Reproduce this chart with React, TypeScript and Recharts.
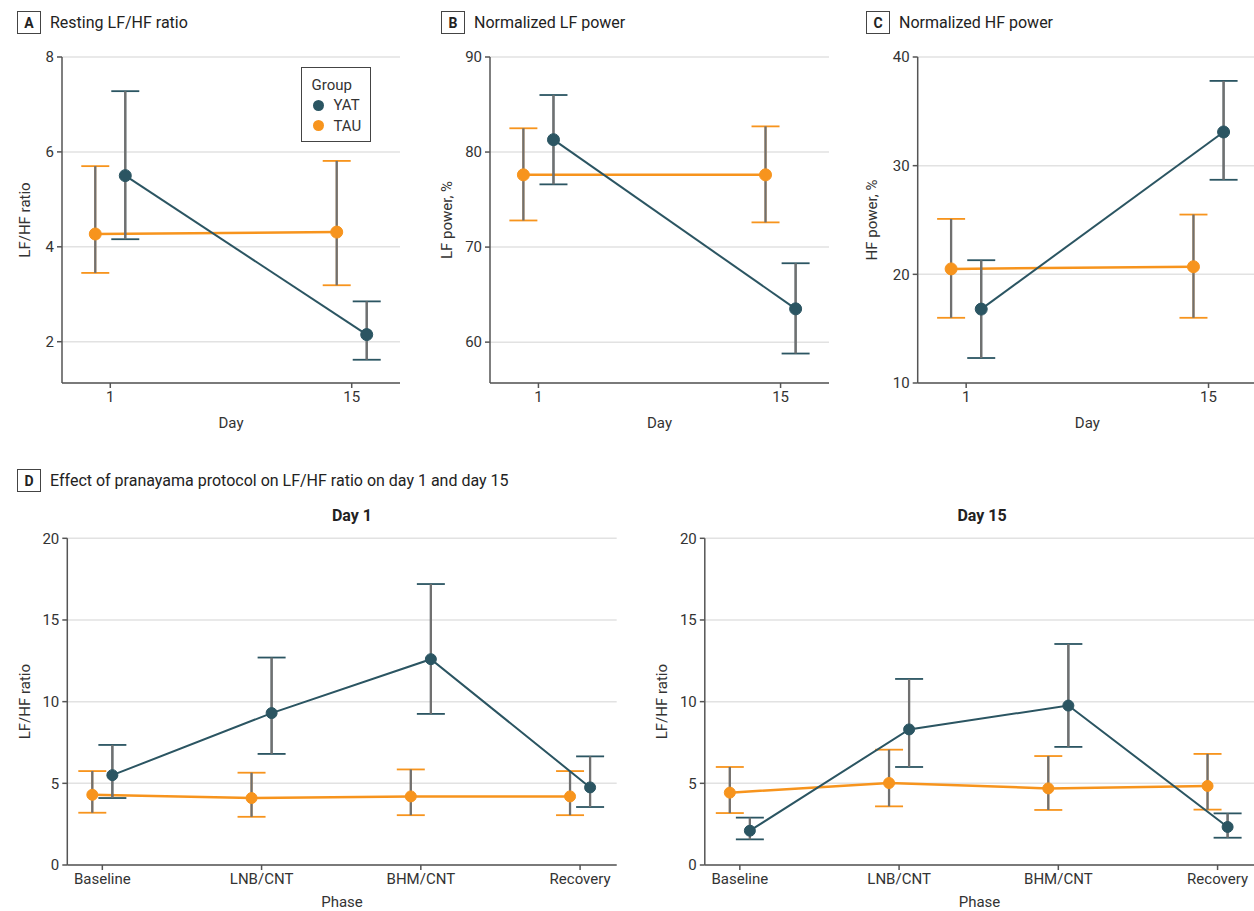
import React from 'react';
import { ComposedChart, Line, XAxis, YAxis, CartesianGrid, ErrorBar, Legend } from 'recharts';

const YAT_COLOR = '#2b5562';
const TAU_COLOR = '#f7941d';
const WHISKER = '#707070';
const AXIS = '#555555';
const TEXT = '#333333';
const FONT = 'Roboto, "Liberation Sans", sans-serif';

// panels A-C: day on x
const days = [1, 15];
const dayTicks = [1, 15];

const lfhfYatMean = [5.5, 2.15];
const lfhfYatLow = [4.16, 1.62];
const lfhfYatHigh = [7.28, 2.85];
const lfhfTauMean = [4.27, 4.31];
const lfhfTauLow = [3.45, 3.19];
const lfhfTauHigh = [5.7, 5.81];
const lfhfTicks = [2, 4, 6, 8];

const lfYatMean = [81.3, 63.5];
const lfYatLow = [76.6, 58.8];
const lfYatHigh = [86.0, 68.3];
const lfTauMean = [77.6, 77.6];
const lfTauLow = [72.8, 72.6];
const lfTauHigh = [82.5, 82.7];
const lfTicks = [60, 70, 80, 90];

const hfYatMean = [16.8, 33.1];
const hfYatLow = [12.3, 28.7];
const hfYatHigh = [21.3, 37.8];
const hfTauMean = [20.5, 20.7];
const hfTauLow = [16.0, 16.0];
const hfTauHigh = [25.1, 25.5];
const hfTicks = [10, 20, 30, 40];

// panel D: phase on x
const phases = ['Baseline', 'LNB/CNT', 'BHM/CNT', 'Recovery'];
const phasePos = [1, 2, 3, 4];
const phaseTicks = [0, 5, 10, 15, 20];

const d1YatMean = [5.5, 9.3, 12.6, 4.75];
const d1YatLow = [4.1, 6.8, 9.25, 3.55];
const d1YatHigh = [7.35, 12.7, 17.2, 6.65];
const d1TauMean = [4.3, 4.1, 4.2, 4.2];
const d1TauLow = [3.2, 2.95, 3.05, 3.05];
const d1TauHigh = [5.75, 5.65, 5.85, 5.75];

const d15YatMean = [2.1, 8.3, 9.76, 2.33];
const d15YatLow = [1.57, 6.0, 7.23, 1.67];
const d15YatHigh = [2.9, 11.39, 13.53, 3.16];
const d15TauMean = [4.43, 5.02, 4.69, 4.84];
const d15TauLow = [3.18, 3.59, 3.37, 3.39];
const d15TauHigh = [6.0, 7.06, 6.67, 6.8];

const groups = [
  { name: 'YAT', color: YAT_COLOR },
  { name: 'TAU', color: TAU_COLOR },
];

type Pt = { x: number; y: number; err: [number, number] };

// dodge groups sideways like position_dodge
function series(xs: number[], shift: number, mean: number[], low: number[], high: number[]): Pt[] {
  return xs.map((x, i) => ({ x: x + shift, y: mean[i], err: [mean[i] - low[i], high[i] - mean[i]] }));
}

function LegendBox() {
  return (
    <div style={{ border: '1.5px solid #444', background: '#fff', width: 70, height: 75, boxSizing: 'border-box', padding: '7px 0 0 10px', fontFamily: FONT, fontSize: 15, color: TEXT, lineHeight: '20.5px' }}>
      <div>Group</div>
      {groups.map(g => (
        <div key={g.name} style={{ display: 'flex', alignItems: 'center' }}>
          <span style={{ display: 'inline-block', width: 11, height: 11, borderRadius: '50%', background: g.color, marginLeft: 1, marginRight: 10 }} />
          {g.name}
        </div>
      ))}
    </div>
  );
}

interface PanelProps {
  left: number;
  top: number;
  width: number;
  height: number;
  margin: { top: number; right: number; bottom: number; left: number };
  yWidth: number;
  yDomain: [number, number];
  yTicks: number[];
  yLabel: string;
  yLabelOffset: number;
  xDomain: [number, number];
  xTicks: number[];
  xFormat?: (v: number) => string;
  xHeight: number;
  xLabel: string;
  xLabelOffset: number;
  yat: Pt[];
  tau: Pt[];
  dotR: number;
  legend?: boolean;
}

function Panel(p: PanelProps) {
  // coloured caps underneath, grey whisker drawn over the vertical part
  const bars = (color: string) => [
    <ErrorBar key="cap" dataKey="err" direction="y" width={14} stroke={color} strokeWidth={1.8} isAnimationActive={false} />,
    <ErrorBar key="whisker" dataKey="err" direction="y" width={0} stroke={WHISKER} strokeWidth={2.3} isAnimationActive={false} />,
  ];
  return (
    <div style={{ position: 'absolute', left: p.left, top: p.top }}>
      <ComposedChart width={p.width} height={p.height} margin={p.margin}>
        <CartesianGrid vertical={false} stroke="#e2e2e2" strokeWidth={1.5} />
        <XAxis
          dataKey="x"
          type="number"
          domain={p.xDomain}
          ticks={p.xTicks}
          allowDataOverflow
          tickFormatter={p.xFormat}
          height={p.xHeight}
          stroke={AXIS}
          strokeWidth={1.5}
          tickSize={5}
          tickMargin={3}
          tick={{ fontSize: 15, fill: TEXT }}
          label={{ value: p.xLabel, position: 'insideBottom', offset: p.xLabelOffset, fontSize: 15, fill: TEXT }}
        />
        <YAxis
          type="number"
          domain={p.yDomain}
          ticks={p.yTicks}
          allowDataOverflow
          width={p.yWidth}
          stroke={AXIS}
          strokeWidth={1.5}
          tickSize={5}
          tickMargin={3}
          tick={{ fontSize: 15, fill: TEXT }}
          label={{ value: p.yLabel, angle: -90, position: 'insideLeft', offset: p.yLabelOffset, fontSize: 15, fill: TEXT, style: { textAnchor: 'middle' } }}
        />
        <Line data={p.tau} dataKey="y" name="TAU" type="linear" stroke={TAU_COLOR} strokeWidth={2.5}
          dot={{ r: p.dotR, fill: TAU_COLOR, stroke: TAU_COLOR, strokeWidth: 1 }} activeDot={false} isAnimationActive={false}>
          {bars(TAU_COLOR)}
        </Line>
        <Line data={p.yat} dataKey="y" name="YAT" type="linear" stroke={YAT_COLOR} strokeWidth={2}
          dot={{ r: p.dotR, fill: YAT_COLOR, stroke: YAT_COLOR, strokeWidth: 1 }} activeDot={false} isAnimationActive={false}>
          {bars(YAT_COLOR)}
        </Line>
        {p.legend && (
          <Legend layout="vertical" align="center" verticalAlign="middle"
            wrapperStyle={{ left: 300.5, top: 26.5, width: 'auto', height: 'auto' }}
            content={() => <LegendBox />} />
        )}
      </ComposedChart>
    </div>
  );
}

function PanelTitle({ letter, text, left, top }: { letter: string; text: string; left: number; top: number }) {
  return (
    <div style={{ position: 'absolute', left, top, display: 'flex', alignItems: 'center', fontFamily: FONT, color: '#222' }}>
      <div style={{ width: 24, height: 23, boxSizing: 'border-box', border: '1.5px solid #444', display: 'flex', alignItems: 'center', justifyContent: 'center', fontWeight: 700, fontSize: 14 }}>{letter}</div>
      <div style={{ marginLeft: 9, fontSize: 16 }}>{text}</div>
    </div>
  );
}

const dayDomain: [number, number] = [-1.8, 17.8];
const phaseDomain: [number, number] = [0.78, 4.23];
const dayShift = 0.87;
const phaseShift = 0.063;
const phaseFormat = (v: number) => phases[phasePos.indexOf(v)] ?? '';

export default function App() {
  return (
    <div style={{ position: 'absolute', left: 0, top: 0, width: 1254, height: 911, overflow: 'hidden', background: '#fff', fontFamily: FONT }}>
      <PanelTitle letter="A" text="Resting LF/HF ratio" left={17} top={11} />
      <PanelTitle letter="B" text="Normalized LF power" left={441} top={11} />
      <PanelTitle letter="C" text="Normalized HF power" left={866} top={11} />
      <PanelTitle letter="D" text="Effect of pranayama protocol on LF/HF ratio on day 1 and day 15" left={17} top={469} />

      <Panel left={0} top={40} width={420} height={420}
        margin={{ top: 17, right: 20, bottom: 32, left: 5 }} yWidth={57}
        yDomain={[1.13, 8]} yTicks={lfhfTicks} yLabel="LF/HF ratio" yLabelOffset={20}
        xDomain={dayDomain} xTicks={dayTicks} xHeight={45} xLabel="Day" xLabelOffset={0}
        yat={series(days, dayShift, lfhfYatMean, lfhfYatLow, lfhfYatHigh)}
        tau={series(days, -dayShift, lfhfTauMean, lfhfTauLow, lfhfTauHigh)}
        dotR={6} legend />

      <Panel left={420} top={40} width={420} height={420}
        margin={{ top: 17, right: 11, bottom: 32, left: 5 }} yWidth={65}
        yDomain={[55.7, 90]} yTicks={lfTicks} yLabel="LF power, %" yLabelOffset={22}
        xDomain={dayDomain} xTicks={dayTicks} xHeight={45} xLabel="Day" xLabelOffset={0}
        yat={series(days, dayShift, lfYatMean, lfYatLow, lfYatHigh)}
        tau={series(days, -dayShift, lfTauMean, lfTauLow, lfTauHigh)}
        dotR={6} />

      <Panel left={840} top={40} width={420} height={420}
        margin={{ top: 17, right: 3, bottom: 32, left: 5 }} yWidth={72.7}
        yDomain={[10, 40]} yTicks={hfTicks} yLabel="HF power, %" yLabelOffset={27}
        xDomain={dayDomain} xTicks={dayTicks} xHeight={45} xLabel="Day" xLabelOffset={0}
        yat={series(days, dayShift, hfYatMean, hfYatLow, hfYatHigh)}
        tau={series(days, -dayShift, hfTauMean, hfTauLow, hfTauHigh)}
        dotR={6} />

      <div style={{ position: 'absolute', left: 252, width: 200, top: 506, textAlign: 'center', fontWeight: 700, fontSize: 16, color: '#222' }}>Day 1</div>
      <div style={{ position: 'absolute', left: 882, width: 200, top: 506, textAlign: 'center', fontWeight: 700, fontSize: 16, color: '#222' }}>Day 15</div>

      <Panel left={0} top={495} width={630} height={416}
        margin={{ top: 43.3, right: 13.3, bottom: 0, left: 5 }} yWidth={62.3}
        yDomain={[0, 20]} yTicks={phaseTicks} yLabel="LF/HF ratio" yLabelOffset={19.5}
        xDomain={phaseDomain} xTicks={phasePos} xFormat={phaseFormat} xHeight={46} xLabel="Phase" xLabelOffset={4}
        yat={series(phasePos, phaseShift, d1YatMean, d1YatLow, d1YatHigh)}
        tau={series(phasePos, -phaseShift, d1TauMean, d1TauLow, d1TauHigh)}
        dotR={5.5} />

      <Panel left={630} top={495} width={630} height={416}
        margin={{ top: 43.3, right: 5.8, bottom: 0, left: 5 }} yWidth={69.8}
        yDomain={[0, 20]} yTicks={phaseTicks} yLabel="LF/HF ratio" yLabelOffset={26.8}
        xDomain={phaseDomain} xTicks={phasePos} xFormat={phaseFormat} xHeight={46} xLabel="Phase" xLabelOffset={4}
        yat={series(phasePos, phaseShift, d15YatMean, d15YatLow, d15YatHigh)}
        tau={series(phasePos, -phaseShift, d15TauMean, d15TauLow, d15TauHigh)}
        dotR={5.5} />
    </div>
  );
}
